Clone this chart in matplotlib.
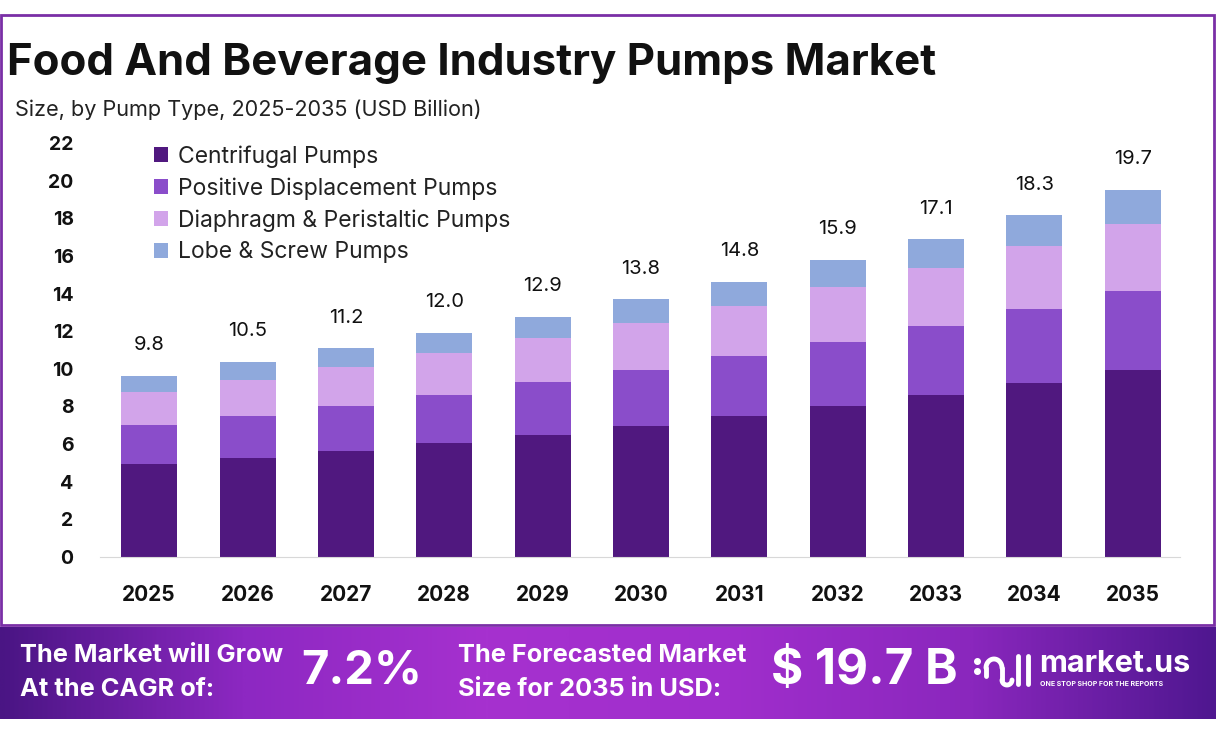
import matplotlib
matplotlib.use('Agg')
import matplotlib.pyplot as plt
import numpy as np
from matplotlib.colors import LinearSegmentedColormap
from matplotlib.patches import Rectangle

# datos del grafico
years = ['2025', '2026', '2027', '2028', '2029', '2030', '2031', '2032', '2033', '2034', '2035']
centrifugal = [4.92, 5.28, 5.63, 6.04, 6.48, 6.96, 7.49, 8.02, 8.61, 9.27, 9.94]
positive_disp = [2.09, 2.21, 2.39, 2.57, 2.83, 2.98, 3.21, 3.42, 3.66, 3.91, 4.19]
diaphragm = [1.77, 1.91, 2.09, 2.25, 2.31, 2.51, 2.64, 2.89, 3.11, 3.34, 3.56]
lobe_screw = [0.84, 0.98, 0.98, 1.06, 1.15, 1.24, 1.29, 1.45, 1.50, 1.65, 1.81]
totals = [9.8, 10.5, 11.2, 12.0, 12.9, 13.8, 14.8, 15.9, 17.1, 18.3, 19.7]
series_names = ['Centrifugal Pumps', 'Positive Displacement Pumps',
                'Diaphragm & Peristaltic Pumps', 'Lobe & Screw Pumps']
colors = ['#50187f', '#8a4dca', '#d2a4ea', '#8fa9dc']

W, H = 1216, 737
plt.rcParams['font.family'] = ['Inter', 'DejaVu Sans']

fig = plt.figure(figsize=(W / 100, H / 100), dpi=100)


def fx(x):
    return x / W


def fy(y):
    return 1 - y / H


# marco morado
fig.patches.append(Rectangle((fx(1), fy(625)), fx(1213), (610) / H, transform=fig.transFigure,
                             fill=False, edgecolor='#7a2fa6', linewidth=2))

# titulo y subtitulo
fig.text(fx(7), fy(63), 'Food And Beverage Industry Pumps Market', fontsize=31.5,
         fontweight='bold', va='center', ha='left', color='#111111')
fig.text(fx(15), fy(110), 'Size, by Pump Type, 2025-2035 (USD Billion)', fontsize=15.6,
         va='center', ha='left', color='#222222')

# grafico de barras apiladas
ax = fig.add_axes([fx(100), fy(557), fx(1180) - fx(100), (557 - 143) / H])
x = np.arange(len(years))
bottom = np.zeros(len(years))
handles = []
for vals, name, c in zip([centrifugal, positive_disp, diaphragm, lobe_screw], series_names, colors):
    b = ax.bar(x, vals, 0.57, bottom=bottom, color=c, label=name, zorder=2)
    handles.append(b)
    bottom = bottom + np.array(vals)

for i, t in enumerate(totals):
    ax.annotate(f'{t:.1f}', (x[i], bottom[i]), xytext=(0, 22), textcoords='offset points',
                ha='center', va='center', fontsize=14.5, color='#111111')

ax.set_xlim(-0.5, 10.48)
ax.set_ylim(0, 22)
ax.set_yticks(range(0, 23, 2))
ax.set_xticks(x)
ax.set_xticklabels(years)
for s in ['top', 'right', 'left']:
    ax.spines[s].set_visible(False)
ax.spines['bottom'].set_color('#d8d8d8')
ax.tick_params(axis='both', length=0)
ax.tick_params(axis='y', pad=19, labelsize=14)
ax.tick_params(axis='x', pad=20, labelsize=15)
for lb in ax.get_yticklabels() + ax.get_xticklabels():
    lb.set_fontweight('bold')
    lb.set_color('#111111')
ax.patch.set_alpha(0)

leg = ax.legend(handles=handles, loc='upper left', bbox_to_anchor=(fx(154), fy(145)),
                bbox_transform=fig.transFigure, frameon=False, fontsize=16.5,
                handlelength=0.6, handleheight=0.6, handletextpad=0.45, labelspacing=0.42,
                borderaxespad=0, borderpad=0)
for t in leg.get_texts():
    t.set_color('#222222')

# banda inferior con degradado
fax = fig.add_axes([0, fy(719), 1, (719 - 627) / H])
cmap = LinearSegmentedColormap.from_list('band', ['#4a1584', '#8d28c2', '#a631cf', '#a02ecc', '#8a27bd', '#4f1790'])
grad = np.linspace(0, 1, 512).reshape(1, -1)
fax.imshow(grad, aspect='auto', cmap=cmap, extent=[0, W, 719, 627])
fax.set_xlim(0, W)
fax.set_ylim(719, 627)
fax.axis('off')

fax.text(20, 656, 'The Market will Grow', fontsize=18.3, fontweight='bold', color='white', va='center')
fax.text(20, 689, 'At the CAGR of:', fontsize=18.3, fontweight='bold', color='white', va='center')
fax.text(301, 671, '7.2%', fontsize=34, fontweight='bold', color='white', va='center')
fax.text(458, 656, 'The Forecasted Market', fontsize=18.3, fontweight='bold', color='white', va='center')
fax.text(458, 689, 'Size for 2035 in USD:', fontsize=18.3, fontweight='bold', color='white', va='center')
fax.text(771, 671, '$ 19.7 B', fontsize=35.5, fontweight='bold', color='white', va='center')

# logo aproximado
fax.plot([977, 977], [661, 671], ls='none', marker='o', color='white', markersize=4)
th = np.linspace(np.pi, 0, 40)
fax.plot(994 + 8 * np.cos(th), 668 - 9 * np.sin(th), color='white', lw=3.5, solid_capstyle='round')
fax.plot([986, 986], [668, 676], color='white', lw=3.5, solid_capstyle='round')
tail = np.linspace(0, np.pi, 30)
fax.plot([1002] * 2, [668, 680], color='white', lw=3.5, solid_capstyle='round')
fax.plot(1007 - 5 * np.cos(tail), 680 + 5 * np.sin(tail), color='white', lw=3.5, solid_capstyle='round')
fax.plot([1018, 1018], [656, 684], color='white', lw=3.5, solid_capstyle='round')
fax.plot([1028, 1028], [656, 684], color='white', lw=3.5, solid_capstyle='round')
fax.text(1039, 664, 'market.us', fontsize=22, fontweight='bold', color='white', va='center')
fax.text(1040, 684, 'ONE STOP SHOP FOR THE REPORTS', fontsize=5, fontweight='bold', color='white', va='center')

fig.savefig('out.png', dpi=100)
